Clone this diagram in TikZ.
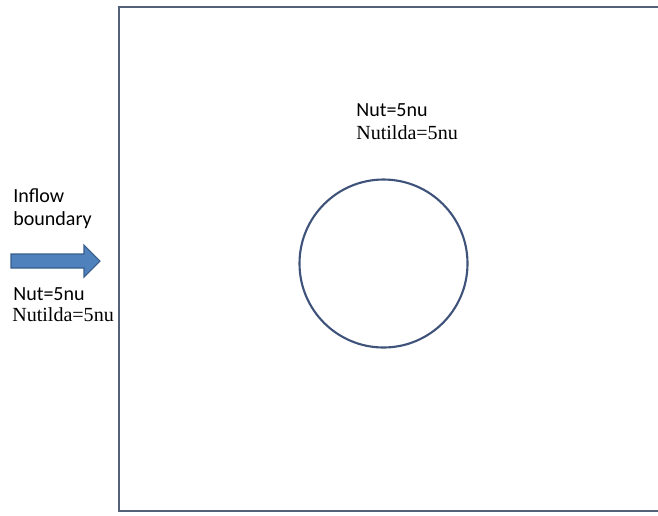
\documentclass[tikz,border=0pt]{standalone}
\usepackage{fontspec}
\setmainfont{Liberation Serif}
\setsansfont{Carlito}
\definecolor{framegray}{RGB}{82,98,120}
\definecolor{circleblue}{RGB}{62,82,122}
\definecolor{arrowfill}{RGB}{79,129,189}
\definecolor{arrowedge}{RGB}{56,93,138}
\begin{document}
\begin{tikzpicture}[x=0.02cm,y=-0.02cm,
  lbl/.style={anchor=base west,inner sep=0pt,font=\sffamily\fontsize{11.4}{13}\selectfont},
  rmlbl/.style={lbl,font=\rmfamily\fontsize{11.4}{13}\selectfont}]
  \useasboundingbox (0,0) rectangle (658,515);
  \draw[framegray,line width=1.2pt] (658,7)--(119,7)--(119,511)--(658,511);
  \draw[circleblue,line width=1.2pt] (383.5,263.5) circle (84);
  \filldraw[fill=arrowfill,draw=arrowedge,line width=.6pt]
    (11,254)--(84,254)--(84,245)--(100,261)--(84,277)--(84,268)--(11,268)--cycle;
  \node[lbl] (inflow) at (13,202) {Inflow};
  \node[lbl] (boundary) at (13,225) {boundary};
  \node[lbl] (nutIn) at (13,300) {Nut=5nu};
  \node[rmlbl] (nutildaIn) at (12,321) {Nutilda=5nu};
  \node[lbl] (nutField) at (356,116) {Nut=5nu};
  \node[rmlbl] (nutildaField) at (356,139) {Nutilda=5nu};
\end{tikzpicture}
\end{document}
